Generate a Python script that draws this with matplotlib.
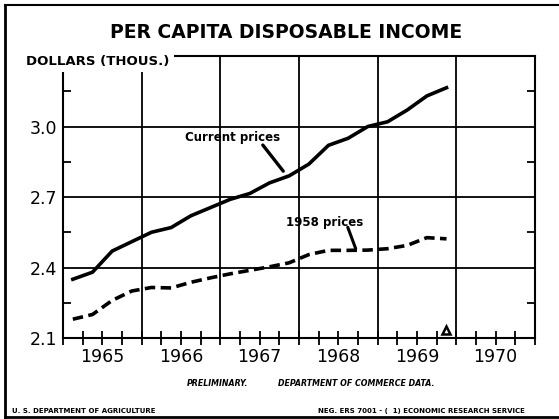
import numpy as np
import pandas as pd
import matplotlib
matplotlib.use('Agg')
import matplotlib.pyplot as plt
from matplotlib.lines import Line2D

# quarterly data, thousands of dollars
quarters = pd.period_range('1965Q1', '1969Q4', freq='Q')
current = [2.35, 2.38, 2.47, 2.51, 2.55, 2.57, 2.62, 2.655, 2.69, 2.715, 2.76, 2.79,
           2.84, 2.92, 2.95, 3.00, 3.02, 3.07, 3.13, 3.165]
prices58 = [2.18, 2.20, 2.26, 2.30, 2.315, 2.313, 2.337, 2.356, 2.373, 2.388, 2.403, 2.42,
            2.455, 2.473, 2.473, 2.474, 2.48, 2.494, 2.527, 2.522]
years = [1965, 1966, 1967, 1968, 1969, 1970]
yticks = [2.1, 2.4, 2.7, 3.0]
yminor = [2.25, 2.55, 2.85, 3.15]

x = quarters.year + (quarters.quarter - 0.5) / 4.0

W, H = 559, 419
fig = plt.figure(figsize=(W / 100, H / 100), dpi=100)
ax = fig.add_axes([63 / W, 1 - 338 / H, (535 - 63) / W, (338 - 56) / H])
ax.set_xlim(years[0], years[-1] + 1)
ax.set_ylim(2.1, 3.3)

# grid
for yr in years[1:]:
    ax.axvline(yr, color='black', lw=1.3, zorder=1)
for v in yticks[1:]:
    ax.axhline(v, color='black', lw=1.3, zorder=1)

ax.plot(x, current, color='black', lw=2.6, solid_joinstyle='round', zorder=3)
ax.plot(x, prices58, color='black', lw=2.6, linestyle=(0, (2.9, 1.5)), zorder=3)

# preliminary marker
ax.plot(x[-1], 2.135, marker='^', ms=6, mfc='white', mec='black', mew=1.8, zorder=4)

# labels with leaders
ax.text(1967.16, 2.955, 'Current prices', ha='center', va='center',
        fontsize=8.5, fontweight='bold')
ax.annotate('', xy=(1967.80, 2.81), xytext=(1967.54, 2.921),
            arrowprops=dict(arrowstyle='-', lw=2.4, color='black',
                            shrinkA=0, shrinkB=0))
ax.text(1968.33, 2.592, '1958 prices', ha='center', va='center',
        fontsize=8.5, fontweight='bold')
ax.annotate('', xy=(1968.72, 2.481), xytext=(1968.62, 2.571),
            arrowprops=dict(arrowstyle='-', lw=2.2, color='black',
                            shrinkA=0, shrinkB=0))

# ticks
ax.set_xticks([y + 0.5 for y in years])
ax.set_xticklabels([str(y) for y in years])
ax.set_xticks(np.arange(years[0], years[-1] + 1.01, 0.25), minor=True)
ax.xaxis.remove_overlapping_locs = False
ax.tick_params(axis='x', which='major', length=0, pad=7, labelsize=12.5)
ax.tick_params(axis='x', which='minor', direction='inout', length=10, width=1.3)

ax.set_yticks(yticks)
ax.set_yticklabels(['%.1f' % v for v in yticks])
ax.set_yticks(yminor, minor=True)
ax.tick_params(axis='y', which='major', length=0, pad=4, labelsize=12.5)
ax.tick_params(axis='y', which='minor', direction='in', length=6, width=1.3,
               left=True, right=True)

for s in ax.spines.values():
    s.set_linewidth(1.5)

# titles and notes
fig.text(286 / W, 1 - 33 / H, 'PER CAPITA DISPOSABLE INCOME', ha='center',
         va='center', fontsize=13.5, fontweight='heavy')
fig.text(26 / W, 1 - 61 / H, 'DOLLARS (THOUS.)', ha='left', va='center',
         fontsize=9.5, fontweight='bold', zorder=10,
         bbox=dict(facecolor='white', edgecolor='none', pad=3))
fig.text(187 / W, 1 - 383 / H, 'PRELIMINARY.', ha='left', va='center',
         fontsize=5.7, fontweight='bold', style='italic')
fig.text(278 / W, 1 - 383 / H, 'DEPARTMENT OF COMMERCE DATA.', ha='left',
         va='center', fontsize=5.7, fontweight='bold', style='italic')
fig.text(12 / W, 1 - 411 / H, 'U. S. DEPARTMENT OF AGRICULTURE', ha='left',
         va='center', fontsize=5, fontweight='bold')
fig.text(318 / W, 1 - 411 / H, 'NEG. ERS 7001 - (  1) ECONOMIC RESEARCH SERVICE',
         ha='left', va='center', fontsize=5, fontweight='bold')

# frame round the page
fig.add_artist(Line2D([5 / W, 5 / W], [1 - 5 / H, 1 - 417 / H],
                      transform=fig.transFigure, color='black', lw=2))
fig.add_artist(Line2D([5 / W, 1], [1 - 5 / H, 1 - 5 / H],
                      transform=fig.transFigure, color='black', lw=1.5))
fig.add_artist(Line2D([5 / W, 1], [1 - 417 / H, 1 - 417 / H],
                      transform=fig.transFigure, color='black', lw=2))

fig.savefig('out.png', dpi=100)
